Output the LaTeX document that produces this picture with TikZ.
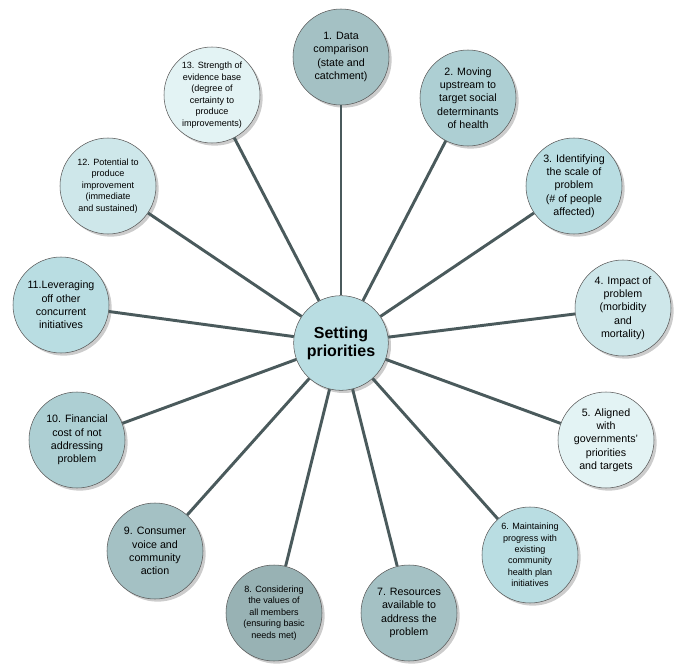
\documentclass[tikz,border=0pt]{standalone}
\usepackage{fontspec}
\setmainfont{Liberation Sans}
\usetikzlibrary{shadows}
\definecolor{tealA}{HTML}{A4C1C4}
\definecolor{tealB}{HTML}{ADCFD3}
\definecolor{tealC}{HTML}{B9DDE2}
\definecolor{tealD}{HTML}{CEE7EA}
\definecolor{tealE}{HTML}{E3F3F4}
\definecolor{tealF}{HTML}{98B2B4}
\definecolor{linkgray}{HTML}{4A5A5C}

\begin{document}
\begin{tikzpicture}[x=0.75pt,y=-0.75pt,
    topic/.style={circle,draw=black!65,thin,minimum size=72pt,inner sep=1pt,align=center,
      font=\fontsize{8}{10}\selectfont,
      drop shadow={shadow xshift=2pt,shadow yshift=-2pt,fill=black!40}},
    smalltopic/.style={topic,font=\fontsize{6.8}{8.6}\selectfont},
    link/.style={draw=linkgray,line width=2.2pt}]
  \useasboundingbox (0,0) rectangle (679,671);
  \node[topic,fill=tealC,minimum size=71pt,font=\fontsize{12}{13.5}\selectfont\bfseries] (hub) at (341,343) {Setting\\priorities};
  \node[topic,fill=tealA] (n1) at (341,57) {1. Data\\comparison\\(state and\\catchment)};
  \node[topic,fill=tealB] (n2) at (468,98) {2. Moving\\upstream to\\target social\\determinants\\of health};
  \node[topic,fill=tealC] (n3) at (574,186) {3. Identifying\\the scale of\\problem\\(\# of people\\affected)};
  \node[topic,fill=tealD] (n4) at (623,308) {4. Impact of\\problem\\(morbidity\\and\\mortality)};
  \node[topic,fill=tealE] (n5) at (606,440) {5. Aligned\\with\\governments'\\priorities\\and targets};
  \node[smalltopic,fill=tealC] (n6) at (530,555) {6. Maintaining\\progress with\\existing\\community\\health plan\\initiatives};
  \node[topic,fill=tealA] (n7) at (409,613) {7. Resources\\available to\\address the\\problem};
  \node[smalltopic,fill=tealF] (n8) at (274,613) {8. Considering\\the values of\\all members\\(ensuring basic\\needs met)};
  \node[topic,fill=tealA] (n9) at (155,551) {9. Consumer\\voice and\\community\\action};
  \node[topic,fill=tealB] (n10) at (77,440) {10. Financial\\cost of not\\addressing\\problem};
  \node[topic,fill=tealC] (n11) at (61,305) {11.Leveraging\\off other\\concurrent\\initiatives};
  \node[smalltopic,fill=tealD] (n12) at (108,186) {12. Potential to\\produce\\improvement\\(immediate\\and sustained)};
  \node[smalltopic,fill=tealE] (n13) at (212,95) {13. Strength of\\evidence base\\(degree of\\certainty to\\produce\\improvements)};
  \foreach \n in {1,...,13}
    \draw[link] (hub) -- (n\n);
\end{tikzpicture}
\end{document}
